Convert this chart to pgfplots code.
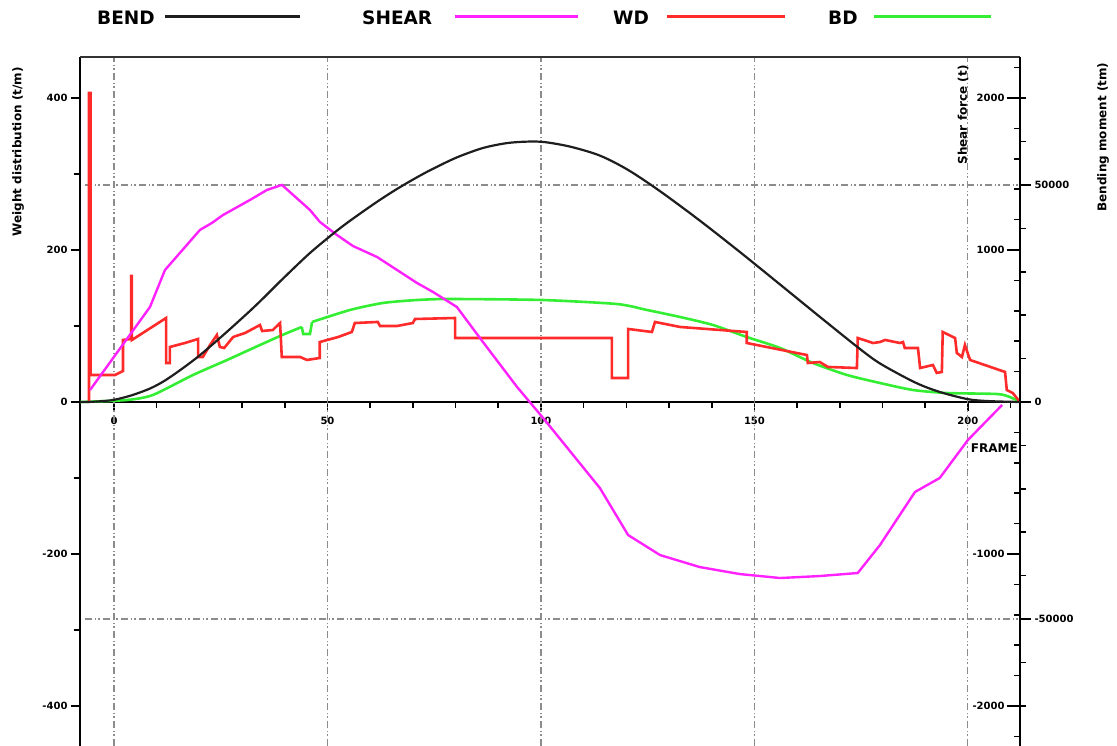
\documentclass[border=0pt]{standalone}
\usepackage{fontspec}
\setmainfont{DejaVu Sans}
\usepackage{pgfplots}
\pgfplotsset{compat=1.18}
\definecolor{bendc}{HTML}{1E1E1E}
\definecolor{shearc}{HTML}{FF22FF}
\definecolor{wdc}{HTML}{FF2A2A}
\definecolor{bdc}{HTML}{33EE33}
\definecolor{gridc}{HTML}{8C8C8C}
\tikzset{gridl/.style={gridc, line width=1.1bp, dash pattern=on 7bp off 3bp on 1.5bp off 2bp on 1.5bp off 3bp}}
\pgfplotsset{
  base/.style={
    at={(80bp,0bp)}, anchor=south west,
    scale only axis, width=940bp, height=689bp,
    xmin=-7.96, xmax=212.2,
    tick style={black, line width=1.6bp},
    ticklabel style={font=\fontsize{10bp}{12bp}\selectfont\bfseries},
    axis line style={line width=2.5bp, black},
  },
}
\begin{document}
\begin{tikzpicture}
\useasboundingbox (0,0) rectangle (1117bp,746bp);
% ---------- weight distribution axis ----------
\begin{axis}[base,
  ymin=-452.6, ymax=453.9,
  axis x line*=middle, axis y line*=left,
  hide obscured x ticks=false, hide obscured y ticks=false,
  xtick={0,50,100,150,200}, xticklabels={0,50,100,150,200},
  minor xtick={10,20,30,40,60,70,80,90,110,120,130,140,160,170,180,190,210},
  ytick={-400,-200,0,200,400}, yticklabels={-400,-200,0,200,400},
  minor ytick={-300,-100,100,300},
  tick align=outside,
  major tick length=9bp, minor tick length=6bp,
  xticklabel style={yshift=-3bp},
]
\draw[gridl] (axis cs:0,-452.6) -- (axis cs:0,453.9);
\draw[gridl] (axis cs:50,-452.6) -- (axis cs:50,453.9);
\draw[gridl] (axis cs:100,-452.6) -- (axis cs:100,453.9);
\draw[gridl] (axis cs:150,-452.6) -- (axis cs:150,453.9);
\draw[gridl] (axis cs:200,-452.6) -- (axis cs:200,453.9);
\draw[gridl] (axis cs:-6.8,285.5) -- (axis cs:212.2,285.5);
\draw[gridl] (axis cs:-6.8,-285.5) -- (axis cs:212.2,-285.5);
\draw[line width=3bp, black!80] (axis cs:-7.96,453.9) -- (axis cs:212.2,453.9);
% BD
\addplot[bdc, line width=2.6bp, smooth, tension=0.4] coordinates {
(-7.96,0) (3.0,2.6) (9.1,9.2) (18.5,35.5) (26.5,55.3) (34.2,75) (40.0,89.5) (44.0,98.7)};
\addplot[bdc, line width=2.6bp] coordinates {
(44.0,98.7) (44.3,89.5) (45.9,89.5) (46.4,105.3)};
\addplot[bdc, line width=2.6bp, smooth, tension=0.4] coordinates {
(46.4,105.3) (55.3,121.1) (63.0,130.3) (71.0,134.2) (78.7,135.5) (100.2,134.2) (117.8,128.9)
(124.8,121.1) (132.6,111.8) (140.3,101.3) (148.2,85.5) (156.0,71.1) (163.7,51.3) (171.7,35.5)
(179.4,25) (187.1,15.8) (195.1,11.8) (206.8,10.5) (209.8,6.6) (212.2,0)};
% WD
\addplot[wdc, line width=2.6bp, line join=miter] coordinates {
(-5.85,0) (-5.85,406.6) (-5.5,406.6) (-5.5,35.5) (0.23,35.5) (2.1,40.8) (2.1,81.6) (4.0,82.9)
(4.0,165.8) (4.2,165.8) (4.2,81.6) (12.2,110.5) (12.2,51.3) (13.1,51.3) (13.1,72.4) (16.6,77.6)
(19.7,82.9) (19.7,59.2) (20.8,59.2) (22.5,75) (24.1,88.2) (24.8,72.4) (25.8,71) (27.9,85.5)
(30.7,90.8) (34.2,101.3) (34.7,93.4) (37.2,94.7) (38.4,101.3) (38.9,103.9) (39.3,59.2) (43.6,59.2)
(45.2,55.3) (48.2,57.9) (48.2,78.9) (52.5,85.5) (55.7,92.1) (56.4,103.9) (61.8,105.3) (62.3,100)
(66.3,100) (70.0,103.9) (70.5,109.2) (79.9,110.5) (79.9,84.2) (116.6,84.2) (116.6,31.6) (120.4,31.6)
(120.4,96.1) (126.0,92.1) (126.7,105.3) (132.6,98.7) (148.2,92.1) (148.2,77.6) (162.3,61.8)
(162.5,51.3) (165.3,52.6) (167.2,46.1) (174.0,44.7) (174.2,84.2) (177.8,77.6) (179.4,78.9)
(180.6,81.6) (184.1,77.6) (184.8,78.9) (185.2,71.1) (188.3,71.1) (188.8,44.7) (191.8,48.7)
(192.7,38.2) (193.9,39.5) (194.1,92.1) (197.0,84.2) (197.4,64.5) (198.6,59.2) (199.3,75)
(200.5,55.3) (208.7,39.5) (209.1,15.8) (210.5,11.8) (212.2,0)};
\end{axis}
% ---------- shear force axis ----------
\begin{axis}[base,
  ymin=-2263, ymax=2269.5,
  axis x line=none, axis y line*=right,
  ytick={-2000,-1000,1000,2000}, yticklabels={-2000,-1000,1000,2000},
  minor ytick={-2200,-1800,-1600,-1400,-1200,-800,-600,-400,-200,0,200,400,600,800,1200,1400,1600,1800,2200},
  tick align=inside,
  major tick length=13bp, minor tick length=6bp,
  yticklabel style={anchor=east, xshift=-12bp},
]
\addplot[shearc, line width=2.4bp] coordinates {
(-5.6,79) (8.43,625) (11.94,868) (20.14,1132) (22.95,1178) (25.53,1230) (31.85,1329) (35.83,1395)
(39.34,1428) (45.9,1263) (48.24,1184) (52.2,1099) (55.97,1026) (61.6,954) (70.96,783) (74.7,724)
(80.3,625) (86.4,395) (94.4,99) (100.5,-105) (113.8,-566) (120.4,-875) (127.9,-1007) (137.2,-1086)
(146.6,-1132) (156.0,-1158) (165.3,-1145) (174.2,-1125) (179.4,-941) (187.6,-592) (193.4,-500)
(200,-250) (208,-20)};
\end{axis}
% ---------- bending moment axis ----------
\begin{axis}[base,
  ymin=-79263, ymax=79493,
  axis x line=none, axis y line*=right,
  scaled y ticks=false,
  ytick={-50000,0,50000}, yticklabels={-50000,0,50000},
  minor ytick={-70000,-60000,-40000,-30000,-20000,-10000,10000,20000,30000,40000,60000,70000},
  tick align=outside,
  major tick length=11bp, minor tick length=6bp,
]
\addplot[bendc, line width=2.2bp, smooth, tension=0.5] coordinates {
(-7.96,0) (-5.6,20) (-2.8,200) (0,500) (4,1500) (8.43,3100) (11.94,4950) (16,7700) (20.14,10800)
(25.53,15367) (31.85,20988) (35.83,24755) (39.34,28198) (45.9,34333) (52.2,39464) (55.97,42248)
(61.6,46122) (66.3,49100) (70.96,51772) (74.7,53730) (80.3,56355) (86.4,58518) (92,59650) (97,60000)
(101,59870) (107,58800) (113.8,56777) (120.4,53473) (127.9,48567) (137.2,41804) (146.6,34558)
(156.0,27078) (165.3,19635) (174.2,12614) (179.4,8881) (187.6,4513) (193.4,2312) (200,650)
(205,200) (212.2,0)};
\end{axis}
% ---------- labels ----------
\node[rotate=90, font=\fontsize{12bp}{14bp}\selectfont\bfseries] at (18bp,594bp) {Weight distribution (t/m)};
\node[rotate=90, font=\fontsize{12bp}{14bp}\selectfont\bfseries] at (963bp,631bp) {Shear force (t)};
\node[rotate=90, font=\fontsize{12bp}{14bp}\selectfont\bfseries] at (1103bp,609bp) {Bending moment (tm)};
\node[anchor=east, inner sep=0pt, font=\fontsize{12bp}{14bp}\selectfont\bfseries] at (1018bp,298bp) {FRAME};
% ---------- legend ----------
\begin{scope}[every node/.style={anchor=west, inner sep=0pt, font=\fontsize{18.5bp}{20bp}\selectfont\bfseries}]
\node at (97bp,728bp) {BEND};
\draw[line width=3bp, bendc] (165bp,729bp) -- (300bp,729bp);
\node at (362bp,728bp) {SHEAR};
\draw[line width=3bp, shearc] (455bp,729bp) -- (578bp,729bp);
\node at (613bp,728bp) {WD};
\draw[line width=3bp, wdc] (667bp,729bp) -- (785bp,729bp);
\node at (828bp,728bp) {BD};
\draw[line width=3bp, bdc] (874bp,729bp) -- (991bp,729bp);
\end{scope}
\end{tikzpicture}
\end{document}
